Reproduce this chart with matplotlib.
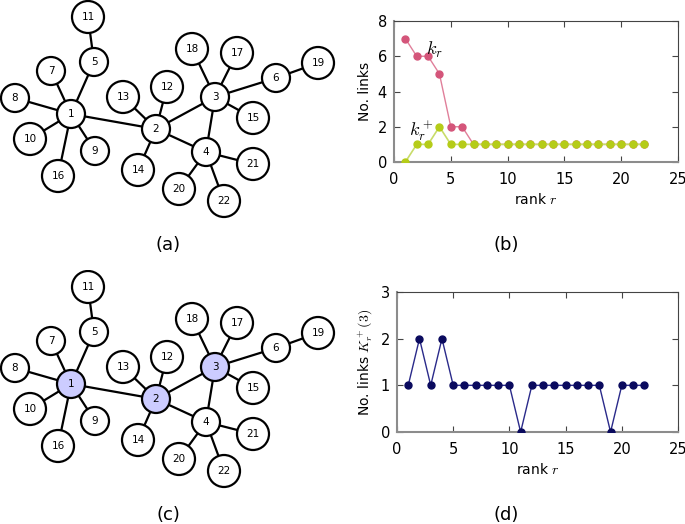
import matplotlib
matplotlib.use("Agg")
import matplotlib.pyplot as plt
from matplotlib.patches import Circle

plt.rcParams['font.family'] = ['DejaVu Sans']
plt.rcParams['mathtext.fontset'] = 'cm'

# network layout (pixel coords of the drawing) and links
node_ids = list(range(1, 23))
node_x = [71, 156, 215, 206, 94, 276, 51, 15, 95, 30, 88, 167, 123, 138, 253, 58, 237, 192, 318, 179, 253, 224]
node_y = [114, 129, 97, 152, 62, 78, 71, 98, 151, 139, 17, 87, 97, 170, 118, 176, 53, 49, 63, 189, 164, 201]
edges = [(1, 5), (5, 11), (1, 7), (1, 8), (1, 10), (1, 9), (1, 16), (1, 2),
         (2, 13), (2, 12), (2, 14), (2, 3), (2, 4), (3, 18), (3, 17), (3, 6),
         (6, 19), (3, 15), (3, 4), (4, 21), (4, 20), (4, 22)]
highlight = [1, 2, 3]

# rank data
rank = list(range(1, 23))
k_r = [7, 6, 6, 5, 2, 2] + [1] * 16
k_r_plus = [0, 1, 1, 2] + [1] * 18
K_r_plus3 = [1, 2, 1, 2, 1, 1, 1, 1, 1, 1, 0, 1, 1, 1, 1, 1, 1, 1, 0, 1, 1, 1]

W, H = 685, 524
fig = plt.figure(figsize=(W / 100, H / 100), dpi=100)


def px_axes(x0, y0, x1, y1):
    return fig.add_axes([x0 / W, 1 - y1 / H, (x1 - x0) / W, (y1 - y0) / H])


def draw_network(ax, marked):
    pos = {n: (x, y) for n, x, y in zip(node_ids, node_x, node_y)}
    for a, b in edges:
        ax.plot([pos[a][0], pos[b][0]], [pos[a][1], pos[b][1]], color='black', lw=1.6, zorder=1)
    for n in node_ids:
        r = 14 if n < 10 else 16
        fc = '#ccccff' if n in marked else 'white'
        ax.add_patch(Circle(pos[n], r, facecolor=fc, edgecolor='black', lw=1.6, zorder=2))
        ax.text(pos[n][0], pos[n][1], str(n), ha='center', va='center', fontsize=7.5, zorder=3)
    ax.set_xlim(0, 340)
    ax.set_ylim(230, 0)
    ax.set_aspect('equal')
    ax.axis('off')


def style_axes(ax):
    for s in ['left', 'bottom']:
        ax.spines[s].set_color('#8c8c8c')
        ax.spines[s].set_linewidth(1.5)
    for s in ['top', 'right']:
        ax.spines[s].set_color('#444444')
        ax.spines[s].set_linewidth(0.8)
    ax.tick_params(direction='in', top=True, right=True, length=4, width=0.8,
                   color='#444444', labelsize=10.5)
    ax.tick_params(axis='x', pad=7)
    ax.tick_params(axis='y', pad=5)
    ax.set_xlim(0, 25)
    ax.set_xticks([0, 5, 10, 15, 20, 25])
    ax.set_xlabel('rank $r$', fontsize=10)


ax_a = px_axes(0, 0, 340, 230)
draw_network(ax_a, [])
ax_c = px_axes(0, 270, 340, 500)
draw_network(ax_c, highlight)

ax_b = px_axes(394, 21, 678, 162)
ax_b.plot(rank, k_r, '-', color='#e07f9a', lw=1, zorder=2)
ax_b.plot(rank, k_r, 'o', color='#d4557a', ms=5, zorder=3)
ax_b.plot(rank, k_r_plus, '-', color='#c8dc6a', lw=1.2, zorder=4)
ax_b.plot(rank, k_r_plus, 'o', color='#b5cc18', ms=5, zorder=5)
ax_b.set_ylim(0, 8)
ax_b.set_yticks([0, 2, 4, 6, 8])
ax_b.set_ylabel('No. links', fontsize=10)
ax_b.text(3.6, 6.35, '$k_r$', fontsize=13, ha='center', va='center')
ax_b.text(2.4, 1.75, '$k_r^+$', fontsize=13, ha='center', va='center')
style_axes(ax_b)

ax_d = px_axes(397, 292, 678, 432)
ax_d.plot(rank, K_r_plus3, '-', color='#2a2a8a', lw=1, zorder=2)
ax_d.plot(rank, K_r_plus3, 'o', color='#0a0a5e', ms=5, zorder=3)
ax_d.set_ylim(0, 3)
ax_d.set_yticks([0, 1, 2, 3])
ax_d.set_ylabel('No. links $K_r^+(3)$', fontsize=10)
style_axes(ax_d)

fig.text(168 / W, 1 - 245 / H, '(a)', ha='center', va='center', fontsize=13)
fig.text(506 / W, 1 - 245 / H, '(b)', ha='center', va='center', fontsize=13)
fig.text(168 / W, 1 - 515 / H, '(c)', ha='center', va='center', fontsize=13)
fig.text(506 / W, 1 - 515 / H, '(d)', ha='center', va='center', fontsize=13)

fig.savefig('out.png', dpi=100)
